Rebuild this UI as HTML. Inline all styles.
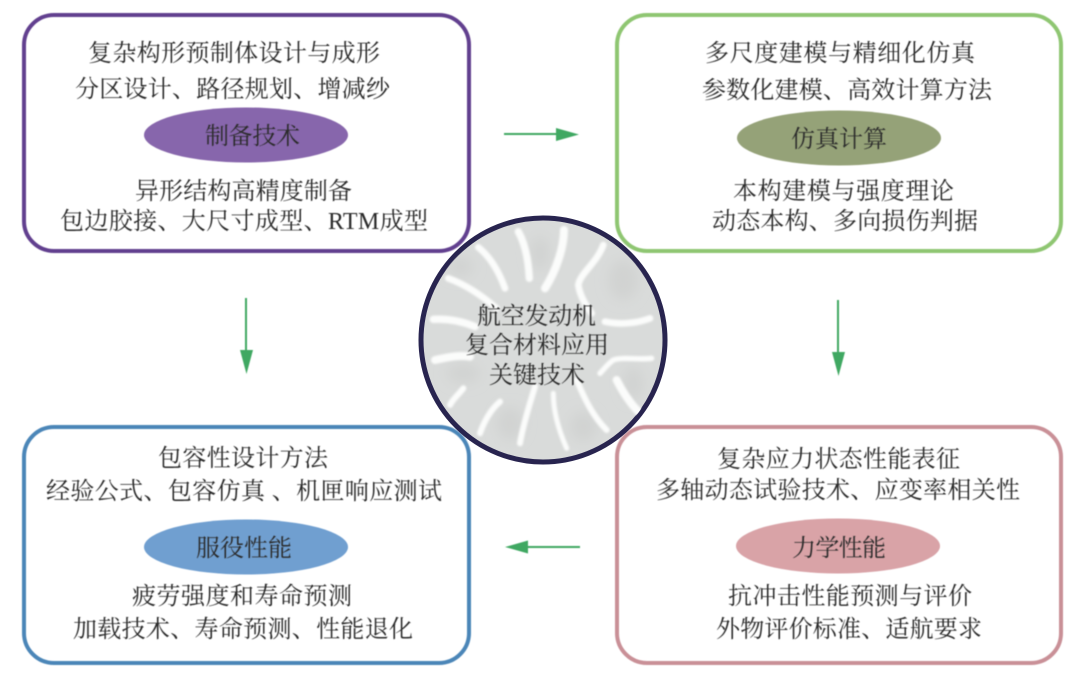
<!DOCTYPE html>
<html lang="zh">
<head>
<meta charset="utf-8">
<title>航空发动机复合材料应用关键技术</title>
<style>
html,body{margin:0;padding:0;background:#fff;width:1080px;height:674px;overflow:hidden}
svg{display:block}
text{font-family:"Liberation Serif","Noto Serif CJK SC",serif;font-size:24px;fill:#2c2c2c}
</style>
</head>
<body>
<svg width="1080" height="674" viewBox="0 0 1080 674" xmlns="http://www.w3.org/2000/svg">
<defs>
<filter id="b" x="-10%" y="-10%" width="120%" height="120%"><feGaussianBlur stdDeviation="0.45"/></filter>
<filter id="s" x="-20%" y="-20%" width="140%" height="140%"><feGaussianBlur stdDeviation="3.5"/></filter>
<filter id="m" x="-20%" y="-20%" width="140%" height="140%"><feGaussianBlur stdDeviation="18"/></filter>
<clipPath id="c"><circle cx="543" cy="340" r="120"/></clipPath>
</defs>
<rect width="1080" height="674" fill="#fff"/>

<g fill="none" stroke-width="4" filter="url(#b)">
<rect x="24" y="15" width="445" height="236" rx="30" stroke="#62418f"/>
<rect x="617" y="15" width="444" height="236" rx="30" stroke="#8fc672"/>
<rect x="24" y="427" width="445" height="236" rx="30" stroke="#4c86b8"/>
<rect x="617" y="427" width="444" height="236" rx="30" stroke="#c99097"/>
</g>

<g filter="url(#b)">
<ellipse cx="246" cy="135" rx="102" ry="27.5" fill="#8766ac"/>
<ellipse cx="839" cy="138" rx="102" ry="27.5" fill="#95a278"/>
<ellipse cx="246" cy="547" rx="102" ry="27.5" fill="#6f9fd0"/>
<ellipse cx="838" cy="546" rx="102" ry="27.5" fill="#d9a3a7"/>
</g>

<g filter="url(#b)">
<path d="M504 134H560" stroke="#3fa862" stroke-width="2" fill="none"/><path d="M556 128L579 134.500L556 141Z" fill="#3fa862"/>
<path d="M246 298V352" stroke="#3fa862" stroke-width="2" fill="none"/><path d="M240 350L246.500 374L253 350Z" fill="#3fa862"/>
<path d="M838 300V354" stroke="#3fa862" stroke-width="2" fill="none"/><path d="M832 352L838.500 376L845 352Z" fill="#3fa862"/>
<path d="M580 547H524" stroke="#3fa862" stroke-width="2" fill="none"/><path d="M528 540.500L505 547L528 553.500Z" fill="#3fa862"/>
</g>

<circle cx="543" cy="340" r="122" fill="#d9dbda" stroke="#28244f" stroke-width="5"/>
<g clip-path="url(#c)"><g transform="translate(410 210) scale(.3333)">
<g filter="url(#m)" fill="#d1d3d2">
<ellipse cx="150" cy="170" rx="40" ry="30"/>
<ellipse cx="640" cy="210" rx="45" ry="60"/>
<ellipse cx="300" cy="640" rx="40" ry="50"/>
<ellipse cx="520" cy="650" rx="40" ry="45"/>
<ellipse cx="160" cy="490" rx="50" ry="30"/>
<ellipse cx="670" cy="520" rx="30" ry="50"/>
<ellipse cx="390" cy="130" rx="30" ry="50"/>
</g>
<g filter="url(#s)" fill="none" stroke="#fbfcfb" stroke-linecap="round">
<path d="M205 112C240 140 265 180 285 235" stroke-width="20"/>
<path d="M325 65C345 100 355 150 358 205" stroke-width="22"/>
<path d="M462 60C462 110 440 180 405 235" stroke-width="24"/>
<path d="M580 105C560 160 510 190 505 225C510 260 530 290 545 310" stroke-width="20"/>
<path d="M115 205C170 225 220 260 260 295" stroke-width="20"/>
<path d="M70 328C120 325 160 335 195 350" stroke-width="22"/>
<path d="M75 450C120 440 150 435 180 440" stroke-width="24"/>
<path d="M720 325C680 340 630 345 585 335" stroke-width="20"/>
<path d="M725 445C680 450 640 440 610 450C590 465 580 480 570 490" stroke-width="16"/>
<path d="M620 510C640 550 660 580 690 610" stroke-width="24"/>
<path d="M160 535C145 555 130 565 120 585" stroke-width="18"/>
<path d="M270 575C240 600 220 640 210 670" stroke-width="18"/>
<path d="M375 530C360 580 340 640 330 700" stroke-width="18"/>
<path d="M430 550C430 610 450 670 470 715" stroke-width="15"/>
<path d="M500 510C525 570 550 620 590 660" stroke-width="18"/>
</g></g></g>

<g text-anchor="start" filter="url(#b)">
<text x="88" y="61" textLength="292">复杂构形预制体设计与成形</text>
<text x="75" y="97" textLength="315">分区设计、路径规划、增减纱</text>
<text x="205" y="144" textLength="95">制备技术</text>
<text x="135" y="199" textLength="217">异形结构高精度制备</text>
<text x="60" y="229" textLength="368">包边胶接、大尺寸成型、RTM成型</text>

<text x="705" y="61" textLength="270">多尺度建模与精细化仿真</text>
<text x="702" y="98" textLength="290">参数化建模、高效计算方法</text>
<text x="791" y="147" textLength="96">仿真计算</text>
<text x="733" y="199" textLength="221">本构建模与强度理论</text>
<text x="712" y="229" textLength="266">动态本构、多向损伤判据</text>

<text x="158" y="466" textLength="170">包容性设计方法</text>
<text x="46" y="499" textLength="396">经验公式、包容仿真 、机匣响应测试</text>
<text x="196" y="556" textLength="96">服役性能</text>
<text x="132" y="604" textLength="220">疲劳强度和寿命预测</text>
<text x="73" y="637" textLength="340">加载技术、寿命预测、性能退化</text>

<text x="717" y="467" textLength="243">复杂应力状态性能表征</text>
<text x="656" y="498" textLength="364">多轴动态试验技术、应变率相关性</text>
<text x="792" y="556" textLength="94">力学性能</text>
<text x="728" y="604" textLength="244">抗冲击性能预测与评价</text>
<text x="716" y="637" textLength="266">外物评价标准、适航要求</text>

<text x="477" y="324" textLength="119">航空发动机</text>
<text x="465" y="353" textLength="144">复合材料应用</text>
<text x="489" y="383" textLength="96">关键技术</text>
</g>
</svg>
</body>
</html>
